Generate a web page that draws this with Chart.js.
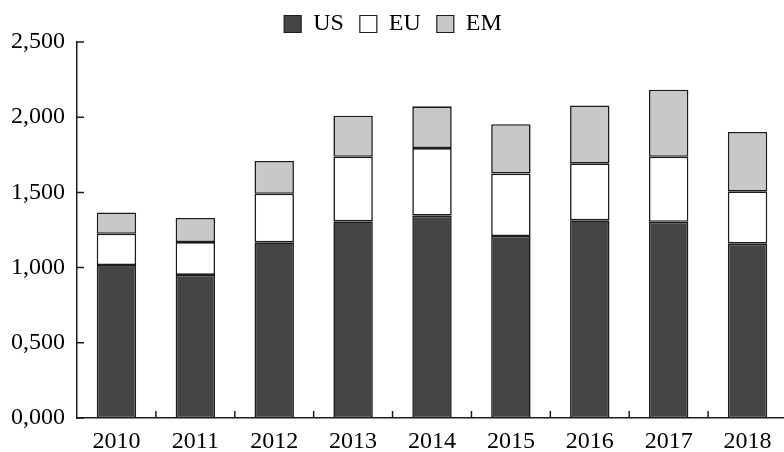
<!DOCTYPE html>
<html>
<head>
<meta charset="utf-8">
<script src="https://cdn.jsdelivr.net/npm/chart.js@4.4.1/dist/chart.umd.min.js"></script>
<style>
  html, body { margin: 0; padding: 0; overflow: hidden; background: #fff; width: 784px; height: 452px; position: relative; }
  #wrap { position: absolute; left: -11px; top: -4px; width: 798px; height: 470px; }
</style>
</head>
<body>
<div id="wrap"><canvas id="c"></canvas></div>
<script>
const categories = ["2010", "2011", "2012", "2013", "2014", "2015", "2016", "2017", "2018"];
const seriesNames = ["US", "EU", "EM"];
const usValues = [1017, 951, 1168, 1308, 1345, 1210, 1314, 1305, 1159];
const euValues = [208, 219, 323, 429, 450, 415, 379, 432, 348];
const emValues = [142, 160, 218, 273, 277, 328, 385, 446, 395];
const yTickValues = [0, 500, 1000, 1500, 2000, 2500];
const yTickLabels = ["0,000", "0,500", "1,000", "1,500", "2,000", "2,500"];

const FONT = "'Liberation Serif', 'Times New Roman', serif";
const EDGE = "#1c1c1c";
const TEXT = "#000";

const tickMarks = {
  id: "tickMarks",
  afterDraw(chart) {
    const ctx = chart.ctx, xs = chart.scales.x, ys = chart.scales.y;
    const a = chart.chartArea;
    ctx.save();
    ctx.strokeStyle = EDGE;
    ctx.lineWidth = 1.5;
    ctx.beginPath();
    yTickValues.forEach(v => {
      const py = ys.getPixelForValue(v);
      ctx.moveTo(a.left, py);
      ctx.lineTo(a.left + 7, py);
    });
    for (let i = 1; i < categories.length; i++) {
      const px = (xs.getPixelForValue(i - 1) + xs.getPixelForValue(i)) / 2;
      ctx.moveTo(px, a.bottom);
      ctx.lineTo(px, a.bottom - 7);
    }
    ctx.stroke();
    ctx.restore();
  }
};

const common = { borderColor: EDGE, borderWidth: 1.6, borderSkipped: false, barPercentage: 0.5, categoryPercentage: 1.0 };

new Chart(document.getElementById("c"), {
  type: "bar",
  data: {
    labels: categories,
    datasets: [
      Object.assign({ label: seriesNames[0], data: usValues, backgroundColor: "#454545" }, common),
      Object.assign({ label: seriesNames[1], data: euValues, backgroundColor: "#ffffff" }, common),
      Object.assign({ label: seriesNames[2], data: emValues, backgroundColor: "#c8c8c8" }, common)
    ]
  },
  options: {
    responsive: true,
    maintainAspectRatio: false,
    animation: false,
    layout: { padding: { left: 10, right: 0, top: 0, bottom: 0 } },
    plugins: {
      tooltip: { enabled: false },
      legend: {
        position: "top",
        maxHeight: 46,
        labels: {
          color: TEXT,
          font: { family: FONT, size: 24, lineHeight: 1 },
          boxWidth: 17, boxHeight: 17, padding: 16,
          generateLabels(chart) {
            return chart.data.datasets.map((d, i) => ({
              text: d.label, fillStyle: d.backgroundColor, strokeStyle: EDGE,
              lineWidth: 1.2, hidden: false, datasetIndex: i, fontColor: TEXT
            }));
          }
        }
      }
    },
    scales: {
      x: {
        stacked: true,
        grid: { display: false, drawTicks: false },
        border: { display: true, color: EDGE, width: 1.5 },
        ticks: { color: TEXT, font: { family: FONT, size: 24, lineHeight: 1 }, padding: 12, maxRotation: 0 }
      },
      y: {
        stacked: true,
        min: 0, max: 2500,
        afterBuildTicks(scale) { scale.ticks = yTickValues.map(v => ({ value: v })); },
        grid: { display: false, drawTicks: false },
        border: { display: true, color: EDGE, width: 1.5 },
        ticks: {
          color: TEXT, font: { family: FONT, size: 24, lineHeight: 1 }, padding: 12,
          callback(value, index) { return yTickLabels[index]; }
        }
      }
    }
  },
  plugins: [tickMarks]
});
</script>
</body>
</html>
